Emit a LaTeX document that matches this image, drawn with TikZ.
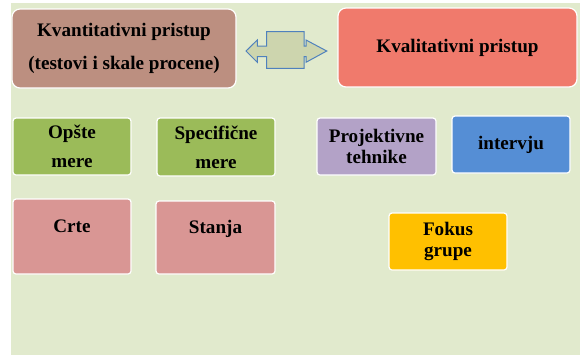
\documentclass[tikz,border=0pt]{standalone}
\usepackage{fontspec}
\setmainfont{Liberation Serif}
\definecolor{bgc}{HTML}{E1EACD}
\definecolor{brownc}{HTML}{BC8F80}
\definecolor{redc}{HTML}{F07A6C}
\definecolor{greenc}{HTML}{9BBB59}
\definecolor{pinkc}{HTML}{D99694}
\definecolor{lavc}{HTML}{B3A2C7}
\definecolor{bluec}{HTML}{558ED5}
\definecolor{goldc}{HTML}{FFC000}
\definecolor{arrowfill}{HTML}{CDD5AE}
\definecolor{arrowline}{HTML}{4F81BD}
\begin{document}
\begin{tikzpicture}[x=1bp,y=-1bp,
  box/.style={draw=white, line width=1.2bp, rounded corners=3bp, inner sep=0pt, align=center,
    font=\bfseries\fontsize{19.2}{29}\selectfont},
  bigbox/.style={box, rounded corners=8bp, minimum height=79bp, font=\bfseries\fontsize{19.2}{33}\selectfont},
  tight/.style={font=\bfseries\fontsize{19.2}{21}\selectfont},
  raised/.style={text height=13bp, text depth=21bp}
]
\useasboundingbox (0,0) rectangle (580,355);
\fill[bgc] (11,3) rectangle (580,355);

\node[bigbox, fill=brownc, minimum width=224bp] (kvant) at (124,48.5) {Kvantitativni pristup\\(testovi i skale procene)};
\node[bigbox, fill=redc, minimum width=239bp] (kval) at (457.5,47.5) {Kvalitativni pristup};

\draw[arrowline, fill=arrowfill, line width=1bp]
  (246,51) -- (257.3,40) -- (257.3,46) -- (266.7,46) -- (266.7,31.7) -- (304,31.7) -- (304,46)
  -- (306,46) -- (306,40) -- (326.7,51) -- (306,62.3) -- (306,56.7) -- (304,56.7) -- (304,68.3)
  -- (266.7,68.3) -- (266.7,56.7) -- (257.3,56.7) -- (257.3,62.3) -- cycle;

\node[box, fill=greenc, minimum width=118bp, minimum height=57bp] (opste) at (72,146.5) {Opšte\\mere};
\node[box, fill=greenc, minimum width=118bp, minimum height=58bp] (spec) at (216,147) {Specifične\\mere};
\node[box, tight, fill=lavc, minimum width=119bp, minimum height=57bp] (proj) at (376.5,146.5) {Projektivne\\tehnike};
\node[box, fill=bluec, minimum width=118bp, minimum height=57bp] (interv) at (511,144.5) {intervju};

\node[box, raised, fill=pinkc, minimum width=118bp, minimum height=75bp] (crte) at (72,236.5) {Crte};
\node[box, raised, fill=pinkc, minimum width=119bp, minimum height=73bp] (stanja) at (215.5,237.5) {Stanja};
\node[box, tight, fill=goldc, minimum width=118bp, minimum height=57bp] (fokus) at (448,241.5) {Fokus\\grupe};
\end{tikzpicture}
\end{document}
